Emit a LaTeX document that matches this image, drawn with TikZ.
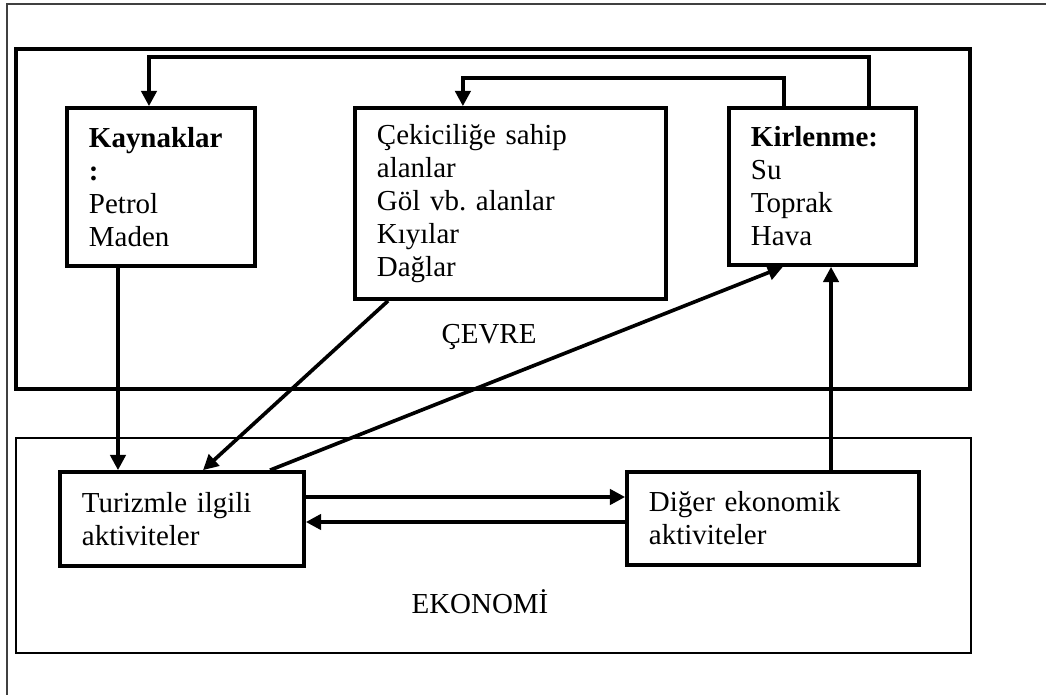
\documentclass[tikz,border=0pt]{standalone}
\usepackage{fontspec}
\setmainfont{Liberation Serif}
\usepackage{tikz}
\usetikzlibrary{arrows.meta, positioning, calc}
\frenchspacing
\tikzset{%
	box/.style={draw, line width=2.6pt, rectangle, align=left, inner xsep=0.55cm, inner ysep=0mm},
	link/.style={draw, line width=2.6pt, -{Triangle[length=0.38cm, width=0.38cm]}},
	region/.style={draw, rectangle},
	textnode/.style={inner sep=0mm}
}

\begin{document}
\begin{tikzpicture}[x=0.025cm, y=-0.025cm, font=\fontsize{20.6}{23.5}\selectfont]
	\useasboundingbox (0,0) rectangle (1046,695);
	\draw[black!75, line width=1.2pt] (7,695) -- (7,4) -- (1046,4);

	% regions
	\draw[region, line width=2.5pt] (16,49) rectangle (970,389);
	\draw[region, line width=1.1pt] (16,438) rectangle (971,653);
	\node[textnode] (cevre) at (489,337) {ÇEVRE};
	\node[textnode] (ekonomi) at (480,602) {EKONOMİ};

	\node[box, text width=3.6cm, minimum height=3.95cm] (kayn) at (161,187)
		{\textbf{Kaynaklar}\\\textbf{:}\\Petrol\\Maden};
	\node[box, text width=6.675cm, minimum height=4.775cm] (cekici) at (510.5,203.5)
		{Çekiciliğe sahip\\alanlar\\Göl vb. alanlar\\Kıyılar\\Dağlar};
	\node[box, text width=3.575cm, minimum height=3.925cm] (kirl) at (822.5,186.5)
		{\textbf{Kirlenme:}\\Su\\Toprak\\Hava};
	\node[box, text width=5cm, minimum height=2.35cm] (turizm) at (182,519)
		{Turizmle ilgili\\aktiviteler};
	\node[box, text width=6.2cm, minimum height=2.325cm] (diger) at (773,518.5)
		{Diğer ekonomik\\aktiviteler};

	\coordinate (k1) at ([xshift=-1.075cm]kayn.south);
	\coordinate (d1) at ([xshift=1.45cm]diger.north);
	\coordinate (t1) at ([yshift=0.55cm]turizm.east);
	\coordinate (d2) at ([yshift=-0.0875cm]diger.west);

	\draw[link] ([xshift=1.16cm]kirl.north) -- ++(0,-49) -| ([xshift=-0.3cm]kayn.north);
	\draw[link] ([xshift=-0.96cm]kirl.north) -- ++(0,-28) -| ([xshift=-1.19cm]cekici.north);
	\draw[link] (k1) -- (k1 |- turizm.north);
	\draw[link] ([xshift=-3.06cm]cekici.south) -- ([xshift=0.525cm]turizm.north);
	\draw[link] ([xshift=2.2cm]turizm.north) -- ([xshift=-0.99cm]kirl.south);
	\draw[link] (d1) -- (d1 |- kirl.south);
	\draw[link] (t1) -- (t1 -| diger.west);
	\draw[link] (d2) -- (d2 -| turizm.east);
\end{tikzpicture}
\end{document}
